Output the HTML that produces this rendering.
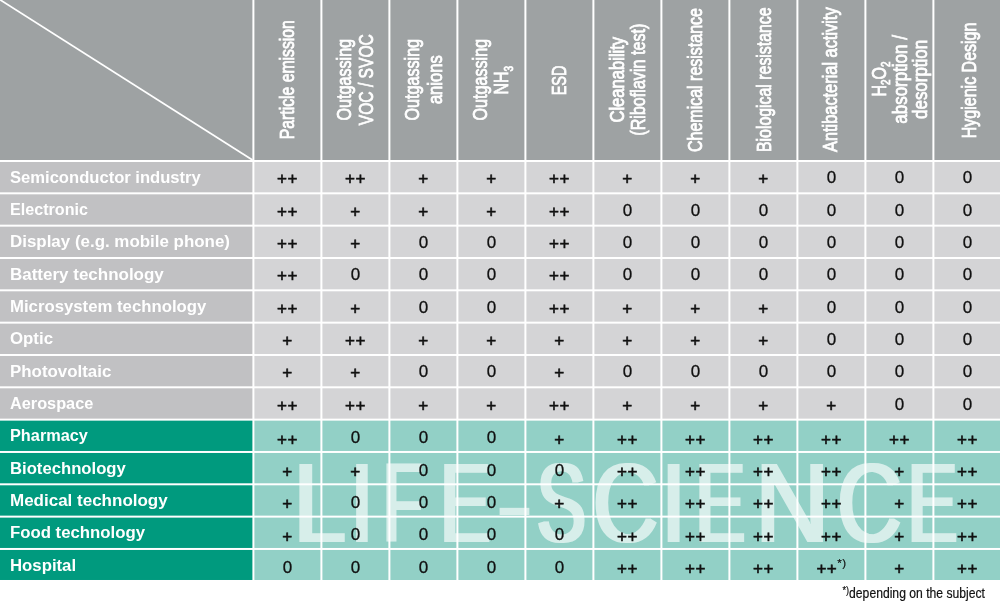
<!DOCTYPE html>
<html lang="en"><head><meta charset="utf-8"><title>Cleanroom suitability by industry</title>
<style>
html,body{margin:0;padding:0;background:#fff}
body{width:1000px;height:602px;overflow:hidden}
svg{display:block}
text{font-family:"Liberation Sans",Arial,sans-serif}
.lab{font-size:16px;font-weight:bold;fill:#fff}
.hd{font-size:20px;fill:#fff;stroke:#fff;stroke-width:.8px}
.d{font-size:17px;fill:#111;text-anchor:middle;stroke:#111;stroke-width:.3px}
.p{font-size:17px;stroke-width:.6px;letter-spacing:.5px}
.wm{font-size:109px;fill:#fff}
.fn{font-size:14px;fill:#111;stroke:#111;stroke-width:.2px}
</style></head><body>
<svg width="1000" height="602" viewBox="0 0 1000 602">
<rect width="1000" height="602" fill="#fff"/>
<rect x="0" y="0" width="252.40" height="160.00" fill="#9ea2a3"/>
<rect x="254.40" y="0" width="66.00" height="160.00" fill="#9ea2a3"/>
<rect x="322.40" y="0" width="66.00" height="160.00" fill="#9ea2a3"/>
<rect x="390.40" y="0" width="66.00" height="160.00" fill="#9ea2a3"/>
<rect x="458.40" y="0" width="66.00" height="160.00" fill="#9ea2a3"/>
<rect x="526.40" y="0" width="66.00" height="160.00" fill="#9ea2a3"/>
<rect x="594.40" y="0" width="66.00" height="160.00" fill="#9ea2a3"/>
<rect x="662.40" y="0" width="66.00" height="160.00" fill="#9ea2a3"/>
<rect x="730.40" y="0" width="66.00" height="160.00" fill="#9ea2a3"/>
<rect x="798.40" y="0" width="66.00" height="160.00" fill="#9ea2a3"/>
<rect x="866.40" y="0" width="66.00" height="160.00" fill="#9ea2a3"/>
<rect x="934.40" y="0" width="65.60" height="160.00" fill="#9ea2a3"/>
<line x1="-2.75" y1="-2" x2="252.50" y2="160.00" stroke="#fff" stroke-width="1.7"/>
<rect x="0" y="162.00" width="252.40" height="30.33" fill="#c1c1c3"/>
<rect x="254.40" y="162.00" width="66.00" height="30.33" fill="#d4d4d6"/>
<rect x="322.40" y="162.00" width="66.00" height="30.33" fill="#d4d4d6"/>
<rect x="390.40" y="162.00" width="66.00" height="30.33" fill="#d4d4d6"/>
<rect x="458.40" y="162.00" width="66.00" height="30.33" fill="#d4d4d6"/>
<rect x="526.40" y="162.00" width="66.00" height="30.33" fill="#d4d4d6"/>
<rect x="594.40" y="162.00" width="66.00" height="30.33" fill="#d4d4d6"/>
<rect x="662.40" y="162.00" width="66.00" height="30.33" fill="#d4d4d6"/>
<rect x="730.40" y="162.00" width="66.00" height="30.33" fill="#d4d4d6"/>
<rect x="798.40" y="162.00" width="66.00" height="30.33" fill="#d4d4d6"/>
<rect x="866.40" y="162.00" width="66.00" height="30.33" fill="#d4d4d6"/>
<rect x="934.40" y="162.00" width="65.60" height="30.33" fill="#d4d4d6"/>
<rect x="0" y="194.33" width="252.40" height="30.33" fill="#c1c1c3"/>
<rect x="254.40" y="194.33" width="66.00" height="30.33" fill="#d4d4d6"/>
<rect x="322.40" y="194.33" width="66.00" height="30.33" fill="#d4d4d6"/>
<rect x="390.40" y="194.33" width="66.00" height="30.33" fill="#d4d4d6"/>
<rect x="458.40" y="194.33" width="66.00" height="30.33" fill="#d4d4d6"/>
<rect x="526.40" y="194.33" width="66.00" height="30.33" fill="#d4d4d6"/>
<rect x="594.40" y="194.33" width="66.00" height="30.33" fill="#d4d4d6"/>
<rect x="662.40" y="194.33" width="66.00" height="30.33" fill="#d4d4d6"/>
<rect x="730.40" y="194.33" width="66.00" height="30.33" fill="#d4d4d6"/>
<rect x="798.40" y="194.33" width="66.00" height="30.33" fill="#d4d4d6"/>
<rect x="866.40" y="194.33" width="66.00" height="30.33" fill="#d4d4d6"/>
<rect x="934.40" y="194.33" width="65.60" height="30.33" fill="#d4d4d6"/>
<rect x="0" y="226.66" width="252.40" height="30.33" fill="#c1c1c3"/>
<rect x="254.40" y="226.66" width="66.00" height="30.33" fill="#d4d4d6"/>
<rect x="322.40" y="226.66" width="66.00" height="30.33" fill="#d4d4d6"/>
<rect x="390.40" y="226.66" width="66.00" height="30.33" fill="#d4d4d6"/>
<rect x="458.40" y="226.66" width="66.00" height="30.33" fill="#d4d4d6"/>
<rect x="526.40" y="226.66" width="66.00" height="30.33" fill="#d4d4d6"/>
<rect x="594.40" y="226.66" width="66.00" height="30.33" fill="#d4d4d6"/>
<rect x="662.40" y="226.66" width="66.00" height="30.33" fill="#d4d4d6"/>
<rect x="730.40" y="226.66" width="66.00" height="30.33" fill="#d4d4d6"/>
<rect x="798.40" y="226.66" width="66.00" height="30.33" fill="#d4d4d6"/>
<rect x="866.40" y="226.66" width="66.00" height="30.33" fill="#d4d4d6"/>
<rect x="934.40" y="226.66" width="65.60" height="30.33" fill="#d4d4d6"/>
<rect x="0" y="258.99" width="252.40" height="30.33" fill="#c1c1c3"/>
<rect x="254.40" y="258.99" width="66.00" height="30.33" fill="#d4d4d6"/>
<rect x="322.40" y="258.99" width="66.00" height="30.33" fill="#d4d4d6"/>
<rect x="390.40" y="258.99" width="66.00" height="30.33" fill="#d4d4d6"/>
<rect x="458.40" y="258.99" width="66.00" height="30.33" fill="#d4d4d6"/>
<rect x="526.40" y="258.99" width="66.00" height="30.33" fill="#d4d4d6"/>
<rect x="594.40" y="258.99" width="66.00" height="30.33" fill="#d4d4d6"/>
<rect x="662.40" y="258.99" width="66.00" height="30.33" fill="#d4d4d6"/>
<rect x="730.40" y="258.99" width="66.00" height="30.33" fill="#d4d4d6"/>
<rect x="798.40" y="258.99" width="66.00" height="30.33" fill="#d4d4d6"/>
<rect x="866.40" y="258.99" width="66.00" height="30.33" fill="#d4d4d6"/>
<rect x="934.40" y="258.99" width="65.60" height="30.33" fill="#d4d4d6"/>
<rect x="0" y="291.32" width="252.40" height="30.33" fill="#c1c1c3"/>
<rect x="254.40" y="291.32" width="66.00" height="30.33" fill="#d4d4d6"/>
<rect x="322.40" y="291.32" width="66.00" height="30.33" fill="#d4d4d6"/>
<rect x="390.40" y="291.32" width="66.00" height="30.33" fill="#d4d4d6"/>
<rect x="458.40" y="291.32" width="66.00" height="30.33" fill="#d4d4d6"/>
<rect x="526.40" y="291.32" width="66.00" height="30.33" fill="#d4d4d6"/>
<rect x="594.40" y="291.32" width="66.00" height="30.33" fill="#d4d4d6"/>
<rect x="662.40" y="291.32" width="66.00" height="30.33" fill="#d4d4d6"/>
<rect x="730.40" y="291.32" width="66.00" height="30.33" fill="#d4d4d6"/>
<rect x="798.40" y="291.32" width="66.00" height="30.33" fill="#d4d4d6"/>
<rect x="866.40" y="291.32" width="66.00" height="30.33" fill="#d4d4d6"/>
<rect x="934.40" y="291.32" width="65.60" height="30.33" fill="#d4d4d6"/>
<rect x="0" y="323.65" width="252.40" height="30.33" fill="#c1c1c3"/>
<rect x="254.40" y="323.65" width="66.00" height="30.33" fill="#d4d4d6"/>
<rect x="322.40" y="323.65" width="66.00" height="30.33" fill="#d4d4d6"/>
<rect x="390.40" y="323.65" width="66.00" height="30.33" fill="#d4d4d6"/>
<rect x="458.40" y="323.65" width="66.00" height="30.33" fill="#d4d4d6"/>
<rect x="526.40" y="323.65" width="66.00" height="30.33" fill="#d4d4d6"/>
<rect x="594.40" y="323.65" width="66.00" height="30.33" fill="#d4d4d6"/>
<rect x="662.40" y="323.65" width="66.00" height="30.33" fill="#d4d4d6"/>
<rect x="730.40" y="323.65" width="66.00" height="30.33" fill="#d4d4d6"/>
<rect x="798.40" y="323.65" width="66.00" height="30.33" fill="#d4d4d6"/>
<rect x="866.40" y="323.65" width="66.00" height="30.33" fill="#d4d4d6"/>
<rect x="934.40" y="323.65" width="65.60" height="30.33" fill="#d4d4d6"/>
<rect x="0" y="355.98" width="252.40" height="30.33" fill="#c1c1c3"/>
<rect x="254.40" y="355.98" width="66.00" height="30.33" fill="#d4d4d6"/>
<rect x="322.40" y="355.98" width="66.00" height="30.33" fill="#d4d4d6"/>
<rect x="390.40" y="355.98" width="66.00" height="30.33" fill="#d4d4d6"/>
<rect x="458.40" y="355.98" width="66.00" height="30.33" fill="#d4d4d6"/>
<rect x="526.40" y="355.98" width="66.00" height="30.33" fill="#d4d4d6"/>
<rect x="594.40" y="355.98" width="66.00" height="30.33" fill="#d4d4d6"/>
<rect x="662.40" y="355.98" width="66.00" height="30.33" fill="#d4d4d6"/>
<rect x="730.40" y="355.98" width="66.00" height="30.33" fill="#d4d4d6"/>
<rect x="798.40" y="355.98" width="66.00" height="30.33" fill="#d4d4d6"/>
<rect x="866.40" y="355.98" width="66.00" height="30.33" fill="#d4d4d6"/>
<rect x="934.40" y="355.98" width="65.60" height="30.33" fill="#d4d4d6"/>
<rect x="0" y="388.31" width="252.40" height="30.33" fill="#c1c1c3"/>
<rect x="254.40" y="388.31" width="66.00" height="30.33" fill="#d4d4d6"/>
<rect x="322.40" y="388.31" width="66.00" height="30.33" fill="#d4d4d6"/>
<rect x="390.40" y="388.31" width="66.00" height="30.33" fill="#d4d4d6"/>
<rect x="458.40" y="388.31" width="66.00" height="30.33" fill="#d4d4d6"/>
<rect x="526.40" y="388.31" width="66.00" height="30.33" fill="#d4d4d6"/>
<rect x="594.40" y="388.31" width="66.00" height="30.33" fill="#d4d4d6"/>
<rect x="662.40" y="388.31" width="66.00" height="30.33" fill="#d4d4d6"/>
<rect x="730.40" y="388.31" width="66.00" height="30.33" fill="#d4d4d6"/>
<rect x="798.40" y="388.31" width="66.00" height="30.33" fill="#d4d4d6"/>
<rect x="866.40" y="388.31" width="66.00" height="30.33" fill="#d4d4d6"/>
<rect x="934.40" y="388.31" width="65.60" height="30.33" fill="#d4d4d6"/>
<rect x="0" y="420.64" width="252.40" height="30.33" fill="#009a7e"/>
<rect x="254.40" y="420.64" width="66.00" height="30.33" fill="#92d0c6"/>
<rect x="322.40" y="420.64" width="66.00" height="30.33" fill="#92d0c6"/>
<rect x="390.40" y="420.64" width="66.00" height="30.33" fill="#92d0c6"/>
<rect x="458.40" y="420.64" width="66.00" height="30.33" fill="#92d0c6"/>
<rect x="526.40" y="420.64" width="66.00" height="30.33" fill="#92d0c6"/>
<rect x="594.40" y="420.64" width="66.00" height="30.33" fill="#92d0c6"/>
<rect x="662.40" y="420.64" width="66.00" height="30.33" fill="#92d0c6"/>
<rect x="730.40" y="420.64" width="66.00" height="30.33" fill="#92d0c6"/>
<rect x="798.40" y="420.64" width="66.00" height="30.33" fill="#92d0c6"/>
<rect x="866.40" y="420.64" width="66.00" height="30.33" fill="#92d0c6"/>
<rect x="934.40" y="420.64" width="65.60" height="30.33" fill="#92d0c6"/>
<rect x="0" y="452.97" width="252.40" height="30.33" fill="#009a7e"/>
<rect x="254.40" y="452.97" width="66.00" height="30.33" fill="#92d0c6"/>
<rect x="322.40" y="452.97" width="66.00" height="30.33" fill="#92d0c6"/>
<rect x="390.40" y="452.97" width="66.00" height="30.33" fill="#92d0c6"/>
<rect x="458.40" y="452.97" width="66.00" height="30.33" fill="#92d0c6"/>
<rect x="526.40" y="452.97" width="66.00" height="30.33" fill="#92d0c6"/>
<rect x="594.40" y="452.97" width="66.00" height="30.33" fill="#92d0c6"/>
<rect x="662.40" y="452.97" width="66.00" height="30.33" fill="#92d0c6"/>
<rect x="730.40" y="452.97" width="66.00" height="30.33" fill="#92d0c6"/>
<rect x="798.40" y="452.97" width="66.00" height="30.33" fill="#92d0c6"/>
<rect x="866.40" y="452.97" width="66.00" height="30.33" fill="#92d0c6"/>
<rect x="934.40" y="452.97" width="65.60" height="30.33" fill="#92d0c6"/>
<rect x="0" y="485.30" width="252.40" height="30.33" fill="#009a7e"/>
<rect x="254.40" y="485.30" width="66.00" height="30.33" fill="#92d0c6"/>
<rect x="322.40" y="485.30" width="66.00" height="30.33" fill="#92d0c6"/>
<rect x="390.40" y="485.30" width="66.00" height="30.33" fill="#92d0c6"/>
<rect x="458.40" y="485.30" width="66.00" height="30.33" fill="#92d0c6"/>
<rect x="526.40" y="485.30" width="66.00" height="30.33" fill="#92d0c6"/>
<rect x="594.40" y="485.30" width="66.00" height="30.33" fill="#92d0c6"/>
<rect x="662.40" y="485.30" width="66.00" height="30.33" fill="#92d0c6"/>
<rect x="730.40" y="485.30" width="66.00" height="30.33" fill="#92d0c6"/>
<rect x="798.40" y="485.30" width="66.00" height="30.33" fill="#92d0c6"/>
<rect x="866.40" y="485.30" width="66.00" height="30.33" fill="#92d0c6"/>
<rect x="934.40" y="485.30" width="65.60" height="30.33" fill="#92d0c6"/>
<rect x="0" y="517.63" width="252.40" height="30.33" fill="#009a7e"/>
<rect x="254.40" y="517.63" width="66.00" height="30.33" fill="#92d0c6"/>
<rect x="322.40" y="517.63" width="66.00" height="30.33" fill="#92d0c6"/>
<rect x="390.40" y="517.63" width="66.00" height="30.33" fill="#92d0c6"/>
<rect x="458.40" y="517.63" width="66.00" height="30.33" fill="#92d0c6"/>
<rect x="526.40" y="517.63" width="66.00" height="30.33" fill="#92d0c6"/>
<rect x="594.40" y="517.63" width="66.00" height="30.33" fill="#92d0c6"/>
<rect x="662.40" y="517.63" width="66.00" height="30.33" fill="#92d0c6"/>
<rect x="730.40" y="517.63" width="66.00" height="30.33" fill="#92d0c6"/>
<rect x="798.40" y="517.63" width="66.00" height="30.33" fill="#92d0c6"/>
<rect x="866.40" y="517.63" width="66.00" height="30.33" fill="#92d0c6"/>
<rect x="934.40" y="517.63" width="65.60" height="30.33" fill="#92d0c6"/>
<rect x="0" y="549.96" width="252.40" height="30.03" fill="#009a7e"/>
<rect x="254.40" y="549.96" width="66.00" height="30.03" fill="#92d0c6"/>
<rect x="322.40" y="549.96" width="66.00" height="30.03" fill="#92d0c6"/>
<rect x="390.40" y="549.96" width="66.00" height="30.03" fill="#92d0c6"/>
<rect x="458.40" y="549.96" width="66.00" height="30.03" fill="#92d0c6"/>
<rect x="526.40" y="549.96" width="66.00" height="30.03" fill="#92d0c6"/>
<rect x="594.40" y="549.96" width="66.00" height="30.03" fill="#92d0c6"/>
<rect x="662.40" y="549.96" width="66.00" height="30.03" fill="#92d0c6"/>
<rect x="730.40" y="549.96" width="66.00" height="30.03" fill="#92d0c6"/>
<rect x="798.40" y="549.96" width="66.00" height="30.03" fill="#92d0c6"/>
<rect x="866.40" y="549.96" width="66.00" height="30.03" fill="#92d0c6"/>
<rect x="934.40" y="549.96" width="65.60" height="30.03" fill="#92d0c6"/>
<defs><filter id="hb" filterUnits="userSpaceOnUse" x="280" y="440" width="700" height="130"><feMorphology operator="dilate" radius="2 0"/></filter></defs>
<g opacity="0.64" filter="url(#hb)" aria-label="LIFE-SCIENCE"><text class="wm" y="542.0" style="font-size:112.79px"><tspan x="293.82" textLength="52.09" lengthAdjust="spacingAndGlyphs">L</tspan><tspan x="350.68" textLength="22.34" lengthAdjust="spacingAndGlyphs">I</tspan><tspan x="383.18" textLength="38.87" lengthAdjust="spacingAndGlyphs">F</tspan><tspan x="440.06" textLength="50.70" lengthAdjust="spacingAndGlyphs">E</tspan><tspan x="497.04" dy="-6.18" font-size="91.00px" textLength="34.92" lengthAdjust="spacingAndGlyphs">-</tspan><tspan x="536.76" dy="6.18" textLength="49.13" lengthAdjust="spacingAndGlyphs">S</tspan><tspan x="592.91" textLength="65.23" lengthAdjust="spacingAndGlyphs">C</tspan><tspan x="661.98" textLength="23.24" lengthAdjust="spacingAndGlyphs">I</tspan><tspan x="695.34" textLength="50.09" lengthAdjust="spacingAndGlyphs">E</tspan><tspan x="755.19" textLength="74.08" lengthAdjust="spacingAndGlyphs">N</tspan><tspan x="837.36" textLength="64.54" lengthAdjust="spacingAndGlyphs">C</tspan><tspan x="907.56" textLength="49.96" lengthAdjust="spacingAndGlyphs">E</tspan></text></g>
<text class="hd" transform="translate(294.0,79.7) rotate(-90)" text-anchor="middle" textLength="119.0" lengthAdjust="spacingAndGlyphs">Particle emission</text>
<text class="hd" transform="translate(350.9,79.7) rotate(-90)" text-anchor="middle" textLength="81.5" lengthAdjust="spacingAndGlyphs">Outgassing</text>
<text class="hd" transform="translate(373.3,79.7) rotate(-90)" text-anchor="middle" textLength="91.0" lengthAdjust="spacingAndGlyphs">VOC / SVOC</text>
<text class="hd" transform="translate(419.4,79.7) rotate(-90)" text-anchor="middle" textLength="81.5" lengthAdjust="spacingAndGlyphs">Outgassing</text>
<text class="hd" transform="translate(442.2,79.7) rotate(-90)" text-anchor="middle" textLength="48.8" lengthAdjust="spacingAndGlyphs">anions</text>
<text class="hd" transform="translate(487.4,79.7) rotate(-90)" text-anchor="middle" textLength="81.5" lengthAdjust="spacingAndGlyphs">Outgassing</text>
<text class="hd" transform="translate(508.3,80.3) rotate(-90)" text-anchor="middle" textLength="28.5" lengthAdjust="spacingAndGlyphs">NH<tspan font-size="12.5px" dy="4.5">3</tspan></text>
<text class="hd" transform="translate(565.5,80.4) rotate(-90)" text-anchor="middle" textLength="29.9" lengthAdjust="spacingAndGlyphs">ESD</text>
<text class="hd" transform="translate(623.7,79.7) rotate(-90)" text-anchor="middle" textLength="85.7" lengthAdjust="spacingAndGlyphs">Cleanability</text>
<text class="hd" transform="translate(644.5,79.7) rotate(-90)" text-anchor="middle" textLength="112.0" lengthAdjust="spacingAndGlyphs">(Riboflavin test)</text>
<text class="hd" transform="translate(702.3,80.0) rotate(-90)" text-anchor="middle" textLength="144.0" lengthAdjust="spacingAndGlyphs">Chemical resistance</text>
<text class="hd" transform="translate(770.7,79.7) rotate(-90)" text-anchor="middle" textLength="144.6" lengthAdjust="spacingAndGlyphs">Biological resistance</text>
<text class="hd" transform="translate(836.9,79.7) rotate(-90)" text-anchor="middle" textLength="144.6" lengthAdjust="spacingAndGlyphs">Antibacterial activity</text>
<text class="hd" transform="translate(885.5,79) rotate(-90)" text-anchor="middle" textLength="35" lengthAdjust="spacingAndGlyphs">H<tspan font-size="12.5px" dy="4.5">2</tspan><tspan dy="-4.5">O</tspan><tspan font-size="12.5px" dy="4.5">2</tspan></text>
<text class="hd" transform="translate(906.8,79.4) rotate(-90)" text-anchor="middle" textLength="88.5" lengthAdjust="spacingAndGlyphs">absorption /</text>
<text class="hd" transform="translate(927.0,79.4) rotate(-90)" text-anchor="middle" textLength="79.0" lengthAdjust="spacingAndGlyphs">desorption</text>
<text class="hd" transform="translate(976.0,80.4) rotate(-90)" text-anchor="middle" textLength="115.6" lengthAdjust="spacingAndGlyphs">Hygienic Design</text>
<text class="lab" x="10" y="182.80" textLength="190.8" lengthAdjust="spacingAndGlyphs">Semiconductor industry</text>
<text class="d p" x="287.5" y="184.40">++</text>
<text class="d p" x="355.5" y="184.40">++</text>
<text class="d p" x="423.5" y="184.40">+</text>
<text class="d p" x="491.5" y="184.40">+</text>
<text class="d p" x="559.5" y="184.40">++</text>
<text class="d p" x="627.5" y="184.40">+</text>
<text class="d p" x="695.5" y="184.40">+</text>
<text class="d p" x="763.5" y="184.40">+</text>
<text class="d" x="831.5" y="183.30">0</text>
<text class="d" x="899.5" y="183.30">0</text>
<text class="d" x="967.5" y="183.30">0</text>
<text class="lab" x="10" y="215.13" textLength="78.0" lengthAdjust="spacingAndGlyphs">Electronic</text>
<text class="d p" x="287.5" y="216.73">++</text>
<text class="d p" x="355.5" y="216.73">+</text>
<text class="d p" x="423.5" y="216.73">+</text>
<text class="d p" x="491.5" y="216.73">+</text>
<text class="d p" x="559.5" y="216.73">++</text>
<text class="d" x="627.5" y="215.63">0</text>
<text class="d" x="695.5" y="215.63">0</text>
<text class="d" x="763.5" y="215.63">0</text>
<text class="d" x="831.5" y="215.63">0</text>
<text class="d" x="899.5" y="215.63">0</text>
<text class="d" x="967.5" y="215.63">0</text>
<text class="lab" x="10" y="247.46" textLength="220.0" lengthAdjust="spacingAndGlyphs">Display (e.g. mobile phone)</text>
<text class="d p" x="287.5" y="249.06">++</text>
<text class="d p" x="355.5" y="249.06">+</text>
<text class="d" x="423.5" y="247.96">0</text>
<text class="d" x="491.5" y="247.96">0</text>
<text class="d p" x="559.5" y="249.06">++</text>
<text class="d" x="627.5" y="247.96">0</text>
<text class="d" x="695.5" y="247.96">0</text>
<text class="d" x="763.5" y="247.96">0</text>
<text class="d" x="831.5" y="247.96">0</text>
<text class="d" x="899.5" y="247.96">0</text>
<text class="d" x="967.5" y="247.96">0</text>
<text class="lab" x="10" y="279.79" textLength="153.8" lengthAdjust="spacingAndGlyphs">Battery technology</text>
<text class="d p" x="287.5" y="281.39">++</text>
<text class="d" x="355.5" y="280.29">0</text>
<text class="d" x="423.5" y="280.29">0</text>
<text class="d" x="491.5" y="280.29">0</text>
<text class="d p" x="559.5" y="281.39">++</text>
<text class="d" x="627.5" y="280.29">0</text>
<text class="d" x="695.5" y="280.29">0</text>
<text class="d" x="763.5" y="280.29">0</text>
<text class="d" x="831.5" y="280.29">0</text>
<text class="d" x="899.5" y="280.29">0</text>
<text class="d" x="967.5" y="280.29">0</text>
<text class="lab" x="10" y="312.12" textLength="196.3" lengthAdjust="spacingAndGlyphs">Microsystem technology</text>
<text class="d p" x="287.5" y="313.72">++</text>
<text class="d p" x="355.5" y="313.72">+</text>
<text class="d" x="423.5" y="312.62">0</text>
<text class="d" x="491.5" y="312.62">0</text>
<text class="d p" x="559.5" y="313.72">++</text>
<text class="d p" x="627.5" y="313.72">+</text>
<text class="d p" x="695.5" y="313.72">+</text>
<text class="d p" x="763.5" y="313.72">+</text>
<text class="d" x="831.5" y="312.62">0</text>
<text class="d" x="899.5" y="312.62">0</text>
<text class="d" x="967.5" y="312.62">0</text>
<text class="lab" x="10" y="344.45" textLength="43.0" lengthAdjust="spacingAndGlyphs">Optic</text>
<text class="d p" x="287.5" y="346.05">+</text>
<text class="d p" x="355.5" y="346.05">++</text>
<text class="d p" x="423.5" y="346.05">+</text>
<text class="d p" x="491.5" y="346.05">+</text>
<text class="d p" x="559.5" y="346.05">+</text>
<text class="d p" x="627.5" y="346.05">+</text>
<text class="d p" x="695.5" y="346.05">+</text>
<text class="d p" x="763.5" y="346.05">+</text>
<text class="d" x="831.5" y="344.95">0</text>
<text class="d" x="899.5" y="344.95">0</text>
<text class="d" x="967.5" y="344.95">0</text>
<text class="lab" x="10" y="376.78" textLength="101.3" lengthAdjust="spacingAndGlyphs">Photovoltaic</text>
<text class="d p" x="287.5" y="378.38">+</text>
<text class="d p" x="355.5" y="378.38">+</text>
<text class="d" x="423.5" y="377.28">0</text>
<text class="d" x="491.5" y="377.28">0</text>
<text class="d p" x="559.5" y="378.38">+</text>
<text class="d" x="627.5" y="377.28">0</text>
<text class="d" x="695.5" y="377.28">0</text>
<text class="d" x="763.5" y="377.28">0</text>
<text class="d" x="831.5" y="377.28">0</text>
<text class="d" x="899.5" y="377.28">0</text>
<text class="d" x="967.5" y="377.28">0</text>
<text class="lab" x="10" y="409.11" textLength="83.3" lengthAdjust="spacingAndGlyphs">Aerospace</text>
<text class="d p" x="287.5" y="410.71">++</text>
<text class="d p" x="355.5" y="410.71">++</text>
<text class="d p" x="423.5" y="410.71">+</text>
<text class="d p" x="491.5" y="410.71">+</text>
<text class="d p" x="559.5" y="410.71">++</text>
<text class="d p" x="627.5" y="410.71">+</text>
<text class="d p" x="695.5" y="410.71">+</text>
<text class="d p" x="763.5" y="410.71">+</text>
<text class="d p" x="831.5" y="410.71">+</text>
<text class="d" x="899.5" y="409.61">0</text>
<text class="d" x="967.5" y="409.61">0</text>
<text class="lab" x="10" y="441.44" textLength="77.9" lengthAdjust="spacingAndGlyphs">Pharmacy</text>
<text class="d p" x="287.5" y="444.54">++</text>
<text class="d" x="355.5" y="443.34">0</text>
<text class="d" x="423.5" y="443.34">0</text>
<text class="d" x="491.5" y="443.34">0</text>
<text class="d p" x="559.5" y="444.54">+</text>
<text class="d p" x="627.5" y="444.54">++</text>
<text class="d p" x="695.5" y="444.54">++</text>
<text class="d p" x="763.5" y="444.54">++</text>
<text class="d p" x="831.5" y="444.54">++</text>
<text class="d p" x="899.5" y="444.54">++</text>
<text class="d p" x="967.5" y="444.54">++</text>
<text class="lab" x="10" y="473.77" textLength="115.8" lengthAdjust="spacingAndGlyphs">Biotechnology</text>
<text class="d p" x="287.5" y="476.87">+</text>
<text class="d p" x="355.5" y="476.87">+</text>
<text class="d" x="423.5" y="475.67">0</text>
<text class="d" x="491.5" y="475.67">0</text>
<text class="d" x="559.5" y="475.67">0</text>
<text class="d p" x="627.5" y="476.87">++</text>
<text class="d p" x="695.5" y="476.87">++</text>
<text class="d p" x="763.5" y="476.87">++</text>
<text class="d p" x="831.5" y="476.87">++</text>
<text class="d p" x="899.5" y="476.87">+</text>
<text class="d p" x="967.5" y="476.87">++</text>
<text class="lab" x="10" y="506.10" textLength="157.7" lengthAdjust="spacingAndGlyphs">Medical technology</text>
<text class="d p" x="287.5" y="509.20">+</text>
<text class="d" x="355.5" y="508.00">0</text>
<text class="d" x="423.5" y="508.00">0</text>
<text class="d" x="491.5" y="508.00">0</text>
<text class="d p" x="559.5" y="509.20">+</text>
<text class="d p" x="627.5" y="509.20">++</text>
<text class="d p" x="695.5" y="509.20">++</text>
<text class="d p" x="763.5" y="509.20">++</text>
<text class="d p" x="831.5" y="509.20">++</text>
<text class="d p" x="899.5" y="509.20">+</text>
<text class="d p" x="967.5" y="509.20">++</text>
<text class="lab" x="10" y="538.43" textLength="135.0" lengthAdjust="spacingAndGlyphs">Food technology</text>
<text class="d p" x="287.5" y="541.53">+</text>
<text class="d" x="355.5" y="540.33">0</text>
<text class="d" x="423.5" y="540.33">0</text>
<text class="d" x="491.5" y="540.33">0</text>
<text class="d" x="559.5" y="540.33">0</text>
<text class="d p" x="627.5" y="541.53">++</text>
<text class="d p" x="695.5" y="541.53">++</text>
<text class="d p" x="763.5" y="541.53">++</text>
<text class="d p" x="831.5" y="541.53">++</text>
<text class="d p" x="899.5" y="541.53">+</text>
<text class="d p" x="967.5" y="541.53">++</text>
<text class="lab" x="10" y="570.76" textLength="66.1" lengthAdjust="spacingAndGlyphs">Hospital</text>
<text class="d" x="287.5" y="572.66">0</text>
<text class="d" x="355.5" y="572.66">0</text>
<text class="d" x="423.5" y="572.66">0</text>
<text class="d" x="491.5" y="572.66">0</text>
<text class="d" x="559.5" y="572.66">0</text>
<text class="d p" x="627.5" y="573.86">++</text>
<text class="d p" x="695.5" y="573.86">++</text>
<text class="d p" x="763.5" y="573.86">++</text>
<text class="d p" x="831.5" y="573.86">++<tspan font-size="11.5px" stroke-width=".2" dy="-6.5">*)</tspan></text>
<text class="d p" x="899.5" y="573.86">+</text>
<text class="d p" x="967.5" y="573.86">++</text>
<text class="fn" x="842.5" y="597.6" textLength="142.5" lengthAdjust="spacingAndGlyphs"><tspan font-size="10.5px" dy="-4">*)</tspan><tspan dy="4">depending on the subject</tspan></text>
</svg></body></html>
